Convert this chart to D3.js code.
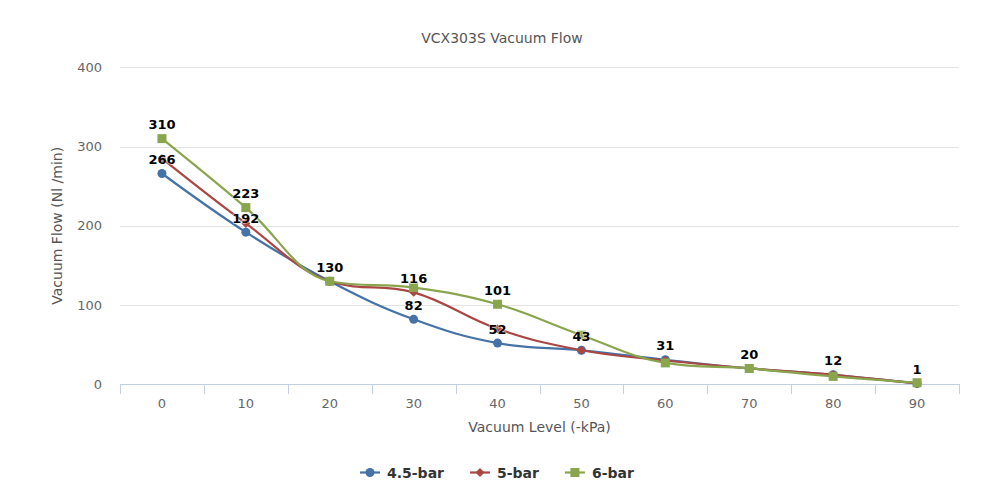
<!DOCTYPE html>
<html><head><meta charset="utf-8">
<script src="https://cdn.jsdelivr.net/npm/d3@7"></script>
<style>body{margin:0;background:#fff}svg{display:block;font-family:"DejaVu Sans",Verdana,sans-serif}</style>
</head><body><svg id="c" width="1005" height="496"></svg>
<script>
const categories = [0, 10, 20, 30, 40, 50, 60, 70, 80, 90];
const seriesNames = ["4.5-bar", "5-bar", "6-bar"];
const values45 = [266, 192, 130, 82, 52, 43, 31, 20, 12, 1];
const values5 = [285, 203, 130, 116, 70, 43, 30, 20, 12, 1];
const values6 = [310, 223, 130, 122, 101, 62, 27, 20, 10, 2];
const labels45 = [1, 1, 1, 1, 1, 1, 1, 1, 1, 1];
const labels5 = [0, 0, 0, 1, 0, 0, 0, 0, 0, 0];
const labels6 = [1, 1, 0, 0, 1, 0, 0, 0, 0, 0];
const yTicks = [0, 100, 200, 300, 400];
const colors = ["#4572A7", "#AA4643", "#89A54E"];
const symbols = ["circle", "diamond", "square"];

const series = [
  {name: seriesNames[0], values: values45, labels: labels45, color: colors[0], symbol: symbols[0]},
  {name: seriesNames[1], values: values5, labels: labels5, color: colors[1], symbol: symbols[1]},
  {name: seriesNames[2], values: values6, labels: labels6, color: colors[2], symbol: symbols[2]}
];

const svg = d3.select("#c");
const L = 120, R = 959, T = 67.3, B = 384.3;
const x = d3.scaleBand().domain(categories).range([L, R]);
const y = d3.scaleLinear().domain([0, 400]).range([B, T]);
const cx = d => x(d) + x.bandwidth() / 2;

// title
svg.append("text").attr("x", 502).attr("y", 43).attr("text-anchor", "middle")
  .attr("fill", "#555").style("font-size", "14px").text("VCX303S Vacuum Flow");

// grid
svg.append("g").selectAll("line").data(yTicks.filter(t => t > 0)).join("line")
  .attr("x1", L).attr("x2", R).attr("y1", d => Math.round(y(d)) + 0.5).attr("y2", d => Math.round(y(d)) + 0.5)
  .attr("stroke", "#e3e3e3").attr("stroke-width", 1);

// y axis labels
const yAxis = d3.axisLeft(y).tickValues(yTicks).tickSize(0).tickPadding(0);
const gy = svg.append("g").attr("transform", `translate(${L - 18},0)`).call(yAxis);
gy.select(".domain").remove();
gy.selectAll("text").attr("fill", "#666").style("font-size", "13px").style("font-family", "DejaVu Sans");

// y title
svg.append("text").attr("transform", `translate(62,${(T + B) / 2}) rotate(-90)`)
  .attr("text-anchor", "middle").attr("fill", "#555").style("font-size", "14px")
  .text("Vacuum Flow (Nl /min)");

// x axis
const xAxis = d3.axisBottom(x).tickSize(0).tickPadding(0);
const gx = svg.append("g").attr("transform", `translate(0,${B})`).call(xAxis);
gx.select(".domain").remove();
gx.selectAll("text").attr("dy", "0").attr("y", 24).attr("fill", "#666").style("font-size", "13px").style("font-family", "DejaVu Sans");
svg.append("line").attr("x1", L).attr("x2", R).attr("y1", Math.round(B) + 0.5).attr("y2", Math.round(B) + 0.5)
  .attr("stroke", "#C0D0E0");
const bounds = categories.map(c => x(c)).concat([x(categories[categories.length - 1]) + x.bandwidth()]);
svg.append("g").selectAll("line").data(bounds).join("line")
  .attr("x1", d => Math.round(d) + 0.5).attr("x2", d => Math.round(d) + 0.5)
  .attr("y1", Math.round(B)).attr("y2", Math.round(B) + 10).attr("stroke", "#C0D0E0");

// x title
svg.append("text").attr("x", (L + R) / 2).attr("y", 432).attr("text-anchor", "middle")
  .attr("fill", "#555").style("font-size", "14px").text("Vacuum Level (-kPa)");

// Highcharts-like spline
function splinePath(pts) {
  const s = 1.5, den = s + 1;
  let d = "";
  let prevRC = null;
  pts.forEach((p, i) => {
    const last = pts[i - 1], next = pts[i + 1];
    let lcx, lcy, rcx, rcy;
    if (last && next) {
      lcx = (s * p[0] + last[0]) / den; lcy = (s * p[1] + last[1]) / den;
      rcx = (s * p[0] + next[0]) / den; rcy = (s * p[1] + next[1]) / den;
      const corr = ((rcy - lcy) * (rcx - p[0])) / (rcx - lcx) + p[1] - rcy;
      lcy += corr; rcy += corr;
      if (lcy > last[1] && lcy > p[1]) { lcy = Math.max(last[1], p[1]); rcy = 2 * p[1] - lcy; }
      else if (lcy < last[1] && lcy < p[1]) { lcy = Math.min(last[1], p[1]); rcy = 2 * p[1] - lcy; }
      if (rcy > next[1] && rcy > p[1]) { rcy = Math.max(next[1], p[1]); lcy = 2 * p[1] - rcy; }
      else if (rcy < next[1] && rcy < p[1]) { rcy = Math.min(next[1], p[1]); lcy = 2 * p[1] - rcy; }
    }
    if (i === 0) d += `M${p[0]},${p[1]}`;
    else {
      const a = prevRC || last;
      const b = (lcx !== undefined) ? [lcx, lcy] : p;
      d += `C${a[0]},${a[1]},${b[0]},${b[1]},${p[0]},${p[1]}`;
    }
    prevRC = (rcx !== undefined) ? [rcx, rcy] : null;
  });
  return d;
}

function drawMarker(g, sym, px, py, color) {
  if (sym === "circle") g.append("circle").attr("cx", px).attr("cy", py).attr("r", 4.5).attr("fill", color);
  else if (sym === "square") g.append("rect").attr("x", px - 4.5).attr("y", py - 4.5).attr("width", 9).attr("height", 9).attr("fill", color);
  else g.append("path").attr("d", `M${px},${py - 4.5}L${px + 4.5},${py}L${px},${py + 4.5}L${px - 4.5},${py}Z`).attr("fill", color);
}

const plot = svg.append("g");
series.forEach(s => {
  const pts = s.values.map((v, i) => [cx(categories[i]), y(v)]);
  const g = plot.append("g");
  g.append("path").attr("d", splinePath(pts)).attr("fill", "none").attr("stroke", s.color).attr("stroke-width", 2.2)
    .attr("stroke-linejoin", "round");
  pts.forEach(p => drawMarker(g, s.symbol, p[0], p[1], s.color));
});

// data labels
const lg = svg.append("g");
series.forEach(s => {
  s.values.forEach((v, i) => {
    if (!s.labels[i]) return;
    lg.append("text").attr("x", cx(categories[i])).attr("y", y(v) - 9.5).attr("text-anchor", "middle")
      .attr("fill", "#000").style("font-size", "13px").style("font-weight", "bold")
      .attr("stroke", "#fff").attr("stroke-width", 1.5).attr("stroke-opacity", 0.6).attr("paint-order", "stroke")
      .text(v);
  });
});

// legend
const leg = svg.append("g");
let lx = 360;
const ly = 472.5;
series.forEach(s => {
  const g = leg.append("g");
  g.append("line").attr("x1", lx).attr("x2", lx + 20).attr("y1", ly).attr("y2", ly).attr("stroke", s.color).attr("stroke-width", 2.2);
  drawMarker(g, s.symbol, lx + 10, ly, s.color);
  const t = g.append("text").attr("x", lx + 27).attr("y", ly + 5).attr("fill", "#333")
    .style("font-size", "14px").style("font-weight", "bold").text(s.name);
  lx += 27 + t.node().getComputedTextLength() + 26;
});
</script></body></html>
